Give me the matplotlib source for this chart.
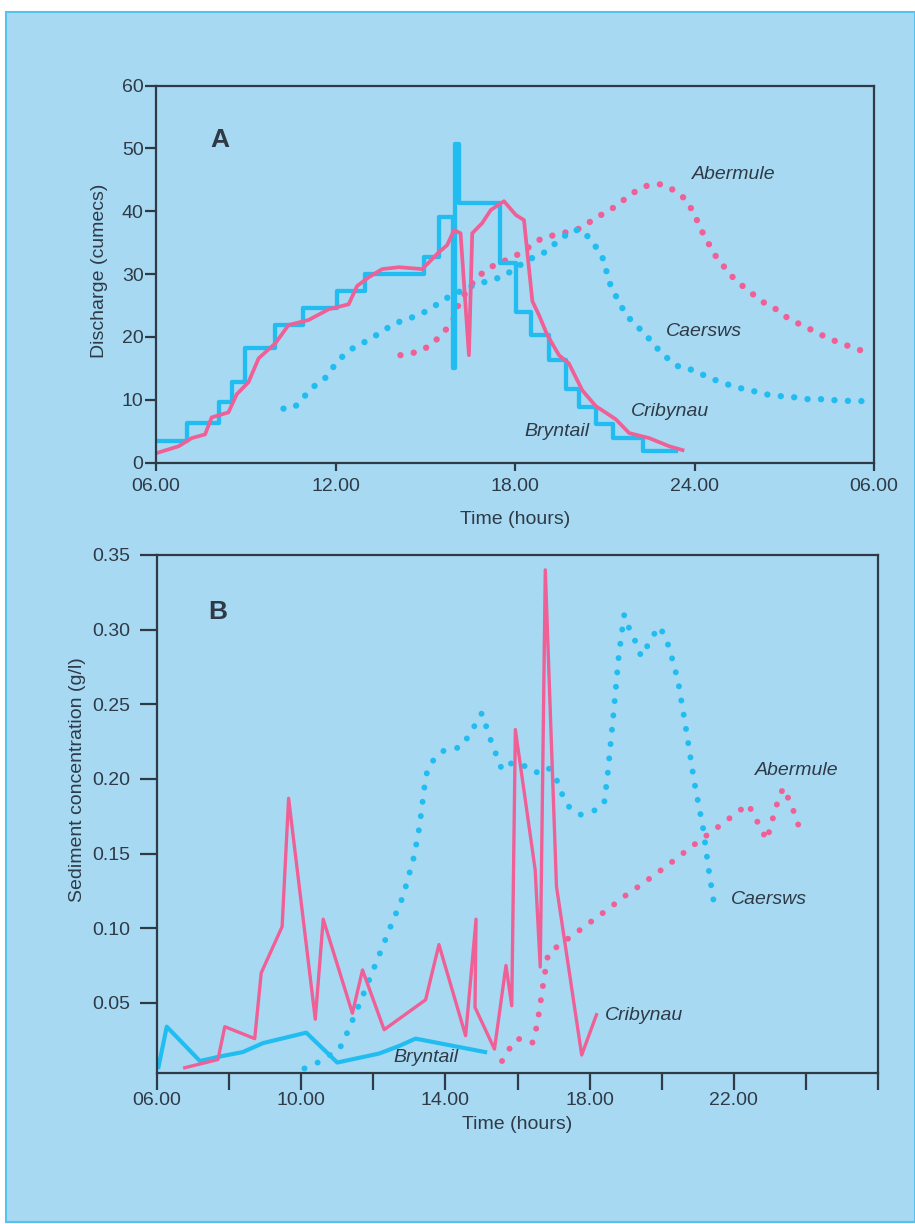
import matplotlib
matplotlib.use('Agg')
import matplotlib.pyplot as plt
from matplotlib.patches import Rectangle
from matplotlib.ticker import MultipleLocator, FixedLocator

plt.rcParams['font.family'] = ['Liberation Sans', 'DejaVu Sans']

# ---- panel A : discharge (cumecs), time in hours from 06.00 (30 = 06.00 next day)
bryn_a_t = [6.0, 7.03, 8.09, 8.53, 8.98, 9.99, 10.93, 12.05, 13.0, 14.95, 15.46, 15.92, 16.0, 16.12,
            17.5, 18.02, 18.55, 19.12, 19.7, 20.15, 20.7, 21.26, 22.27, 23.39]
bryn_a_q = [3.5, 6.3, 9.6, 12.9, 18.2, 21.9, 24.6, 27.3, 30.0, 32.7, 39.1, 15.0, 50.7, 41.3,
            31.8, 23.9, 20.3, 16.3, 11.7, 8.8, 6.1, 3.9, 1.8, 1.8]

crib_a_t = [6.0, 6.75, 7.19, 7.64, 7.86, 8.42, 8.7, 9.09, 9.43, 9.99, 10.43, 11.1, 11.77, 12.44,
            12.72, 13.11, 13.56, 14.12, 14.9, 15.46, 15.73, 15.96, 16.18, 16.46, 16.57, 16.9, 17.19,
            17.63, 18.03, 18.3, 18.58, 18.8, 19.08, 19.47, 19.8, 20.25, 20.7, 21.37, 21.82, 22.49,
            23.16, 23.6]
crib_a_q = [1.5, 2.6, 3.9, 4.5, 7.2, 8.0, 10.9, 12.8, 16.6, 19.0, 21.9, 22.7, 24.4, 25.2,
            28.1, 29.5, 30.8, 31.1, 30.8, 33.5, 34.6, 37.0, 36.5, 17.1, 36.5, 38.1, 40.2,
            41.6, 39.4, 38.6, 25.7, 23.5, 20.3, 17.1, 15.8, 11.5, 9.0, 6.9, 4.7, 3.9,
            2.6, 2.0]

caer_a_t = [10.26, 10.63, 10.93, 11.27, 11.66, 11.94, 12.27, 12.66, 13.11, 13.56, 14.0, 14.45,
            14.95, 15.4, 15.79, 16.68, 17.13, 17.63, 18.47, 18.86, 19.2, 19.53, 19.92, 20.25,
            20.64, 20.92, 21.2, 21.43, 21.71, 22.04, 22.38, 22.71, 23.1, 23.49, 23.99, 24.44,
            24.89, 25.39, 25.89, 26.34, 26.84, 27.34, 27.79, 28.29, 28.79, 29.3, 29.86]
caer_a_q = [8.6, 8.8, 10.4, 12.1, 13.5, 15.3, 17.1, 18.5, 19.5, 20.9, 22.2, 22.9,
            23.9, 25.2, 26.4, 28.4, 28.9, 29.7, 32.4, 33.0, 34.3, 35.6, 37.0, 37.0,
            34.8, 32.7, 28.1, 26.0, 23.5, 21.9, 20.3, 18.4, 16.6, 15.2, 14.7, 13.6,
            12.8, 12.0, 11.5, 10.9, 10.6, 10.4, 10.1, 10.1, 9.9, 9.8, 9.8]

aber_a_t = [14.17, 14.73, 15.12, 15.45, 15.79, 16.01, 16.12, 16.35, 16.63, 16.96, 17.3, 17.69,
            18.13, 18.47, 18.86, 19.3, 19.75, 20.2, 20.59, 20.98, 21.37, 21.71, 22.04, 22.43,
            22.88, 23.38, 23.72, 23.94, 24.11, 24.28, 24.5, 24.73, 25.0, 25.28, 25.61, 25.95,
            26.34, 26.73, 27.12, 27.57, 28.01, 28.46, 28.9, 29.35, 29.86]
aber_a_q = [17.1, 17.6, 18.5, 19.9, 21.7, 23.4, 25.4, 27.0, 28.9, 30.4, 31.4, 32.2,
            33.2, 34.3, 35.6, 36.2, 36.7, 37.3, 38.6, 39.7, 40.8, 42.1, 43.2, 44.1,
            44.3, 43.2, 41.8, 40.0, 38.3, 36.5, 34.6, 32.7, 31.1, 29.5, 28.1, 26.8,
            25.4, 24.4, 23.0, 21.9, 20.9, 19.8, 19.0, 18.2, 17.4]

a_ticks = [6, 12, 18, 24, 30]
a_ticklabels = ['06.00', '12.00', '18.00', '24.00', '06.00']

# ---- panel B : sediment concentration (g/l)
bryn_b_t = [6.04, 6.27, 7.19, 7.74, 8.38, 8.94, 10.14, 11.0, 12.16, 12.71, 13.17, 15.1]
bryn_b_c = [0.007, 0.034, 0.011, 0.014, 0.017, 0.023, 0.030, 0.010, 0.016, 0.021, 0.026, 0.017]

crib_b_t = [6.77, 7.69, 7.88, 8.71, 8.89, 9.47, 9.65, 10.39, 10.61, 11.42, 11.7, 12.3, 13.45,
            13.82, 14.56, 14.85, 14.82, 15.36, 15.68, 15.84, 15.94, 16.49, 16.63, 16.77, 17.08,
            17.78, 18.19]
crib_b_c = [0.0065, 0.012, 0.034, 0.026, 0.070, 0.101, 0.187, 0.039, 0.106, 0.043, 0.072, 0.032, 0.052,
            0.089, 0.028, 0.106, 0.047, 0.019, 0.075, 0.048, 0.233, 0.139, 0.074, 0.340, 0.128,
            0.015, 0.042]

caer_b_t = [10.09, 10.46, 11.06, 11.24, 11.56, 11.88, 12.18, 12.51, 12.82, 13.13, 13.28, 13.43,
            13.5, 13.73, 14.02, 14.42, 14.65, 15.01, 15.27, 15.57, 15.86, 16.17, 16.49, 16.84,
            17.09, 17.25, 17.46, 17.76, 18.15, 18.4, 18.5, 18.66, 18.81, 18.96, 19.11, 19.27,
            19.43, 19.6, 19.76, 19.94, 20.12, 20.24, 20.45, 20.65, 20.91, 21.14, 21.31, 21.44]
caer_b_c = [0.006, 0.010, 0.019, 0.028, 0.046, 0.065, 0.083, 0.103, 0.121, 0.148, 0.168, 0.197,
            0.206, 0.215, 0.220, 0.221, 0.229, 0.244, 0.225, 0.206, 0.211, 0.209, 0.204, 0.208,
            0.199, 0.189, 0.180, 0.176, 0.179, 0.183, 0.203, 0.243, 0.283, 0.310, 0.300, 0.292,
            0.282, 0.289, 0.296, 0.302, 0.294, 0.285, 0.266, 0.237, 0.197, 0.168, 0.138, 0.118]

aber_b_t = [15.57, 15.77, 16.01, 16.41, 16.52, 16.6, 16.72, 16.85, 17.15, 17.46, 17.8, 18.13,
            18.47, 18.79, 19.11, 19.43, 19.76, 20.1, 20.43, 20.74, 21.07, 21.41, 21.74, 22.06,
            22.4, 22.57, 22.75, 22.91, 23.02, 23.11, 23.22, 23.37, 23.57, 23.71, 23.83]
aber_b_c = [0.011, 0.019, 0.026, 0.023, 0.033, 0.044, 0.064, 0.083, 0.0885, 0.094, 0.100, 0.106,
            0.112, 0.118, 0.124, 0.129, 0.135, 0.141, 0.147, 0.153, 0.159, 0.165, 0.171, 0.177,
            0.183, 0.175, 0.167, 0.159, 0.168, 0.176, 0.185, 0.194, 0.184, 0.175, 0.166]

b_ticks = [6, 10, 14, 18, 22]
b_ticklabels = ['06.00', '10.00', '14.00', '18.00', '22.00']

BG = '#a8d9f3'
CYAN = '#22bdf0'
PINK = '#ef6096'
INK = '#2e3b47'

fig = plt.figure(figsize=(9.15, 12.24), dpi=100, facecolor='white')
fig.patches.append(Rectangle((0.007, 0.002), 0.993, 0.988, transform=fig.transFigure,
                             facecolor=BG, edgecolor='#55c3ee', lw=1.5, zorder=-10))


def style_axes(ax):
    ax.set_facecolor('none')
    ax.set_zorder(2)
    for s in ax.spines.values():
        s.set_color(INK)
        s.set_linewidth(1.6)
    ax.tick_params(colors=INK, labelcolor=INK, labelsize=14, width=1.6)


# ---------------- A
axA = fig.add_axes([0.1705, 0.622, 0.7847, 0.3081])
style_axes(axA)
axA.plot(aber_a_t, aber_a_q, color=PINK, lw=4.6, ls=(0, (0.01, 2.1)), dash_capstyle='round')
axA.plot(caer_a_t, caer_a_q, color=CYAN, lw=4.6, ls=(0, (0.01, 2.1)), dash_capstyle='round')
axA.plot(bryn_a_t, bryn_a_q, color=CYAN, lw=3.1, drawstyle='steps-post')
axA.plot(crib_a_t, crib_a_q, color=PINK, lw=2.7)
axA.set_xlim(6, 30)
axA.set_ylim(0, 60)
axA.yaxis.set_major_locator(MultipleLocator(10))
axA.xaxis.set_major_locator(FixedLocator(a_ticks))
axA.set_xticklabels(a_ticklabels)
axA.tick_params(axis='y', length=8, pad=1)
axA.tick_params(axis='x', length=6, pad=5)
axA.set_xlabel('Time (hours)', fontsize=14, color=INK, va='center')
axA.xaxis.set_label_coords(0.5, -0.15)
axA.set_ylabel('Discharge (cumecs)', fontsize=14, color=INK, va='center')
axA.yaxis.set_label_coords(-0.079, 0.51)
axA.text(8.14, 51.4, 'A', fontsize=19, fontweight='bold', color=INK, ha='center', va='center')
it = dict(fontsize=14, style='italic', color=INK, va='center', ha='left')
axA.text(23.93, 45.8, 'Abermule', **it)
axA.text(23.05, 20.9, 'Caersws', **it)
axA.text(21.87, 8.2, 'Cribynau', **it)
axA.text(18.3, 5.0, 'Bryntail', **it)

# ---------------- B
axB = fig.add_axes([0.1716, 0.1234, 0.788, 0.4232])
style_axes(axB)
axB.plot(aber_b_t, aber_b_c, color=PINK, lw=4.3, ls=(0, (0.01, 2.4)), dash_capstyle='round')
axB.plot(caer_b_t, caer_b_c, color=CYAN, lw=4.3, ls=(0, (0.01, 2.4)), dash_capstyle='round')
axB.plot(bryn_b_t, bryn_b_c, color=CYAN, lw=3.0)
axB.plot(crib_b_t, crib_b_c, color=PINK, lw=2.4)
axB.set_xlim(6, 26)
axB.set_ylim(0.003, 0.35)
axB.yaxis.set_major_locator(FixedLocator([0.05, 0.10, 0.15, 0.20, 0.25, 0.30, 0.35]))
axB.set_yticklabels(['0.05', '0.10', '0.15', '0.20', '0.25', '0.30', '0.35'])
axB.xaxis.set_major_locator(FixedLocator(b_ticks))
axB.set_xticklabels(b_ticklabels)
axB.xaxis.set_minor_locator(MultipleLocator(2))
axB.tick_params(axis='y', length=12, pad=7)
axB.tick_params(axis='x', which='both', length=12, pad=2, width=1.6, color=INK)
axB.set_xlabel('Time (hours)', fontsize=14, color=INK, va='center')
axB.xaxis.set_label_coords(0.5, -0.1)
axB.set_ylabel('Sediment concentration (g/l)', fontsize=14, color=INK, va='center')
axB.yaxis.set_label_coords(-0.11, 0.566)
axB.text(7.69, 0.3117, 'B', fontsize=19, fontweight='bold', color=INK, ha='center', va='center')
axB.text(22.6, 0.2058, 'Abermule', **it)
axB.text(21.91, 0.119, 'Caersws', **it)
axB.text(18.43, 0.0416, 'Cribynau', **it)
axB.text(12.57, 0.0134, 'Bryntail', **it)

fig.savefig('out.png', dpi=100, facecolor='white')
